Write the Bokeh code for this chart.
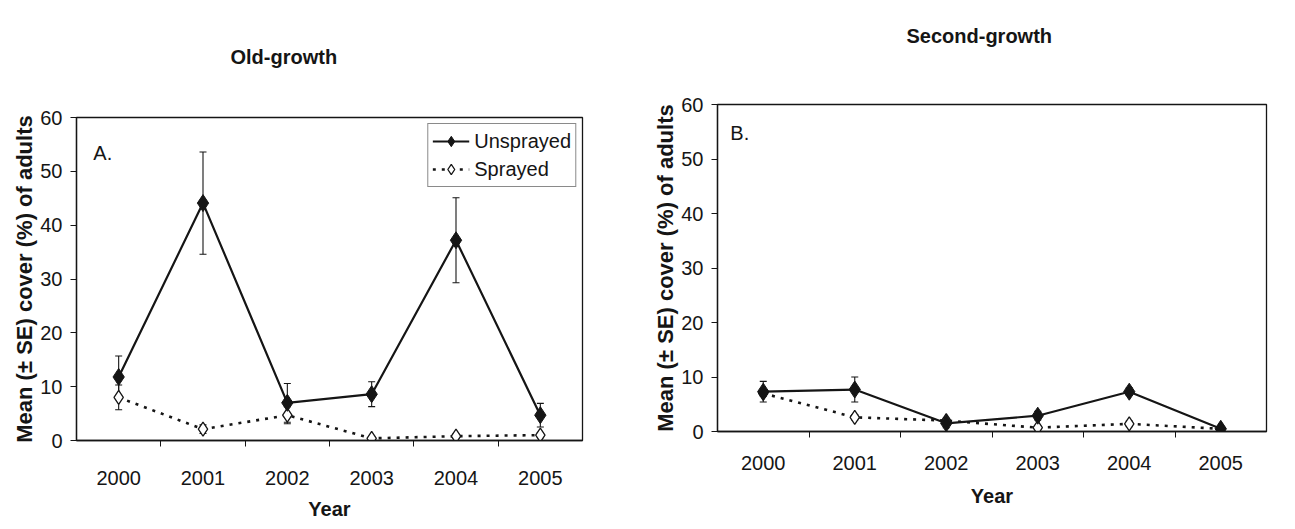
from bokeh.plotting import figure
from bokeh.models import (ColumnDataSource, Whisker, TeeHead, FixedTicker, Label,
                          Legend, LegendItem, Range1d)
from bokeh.layouts import row, column
from bokeh.embed import file_html
from bokeh.resources import INLINE

years = ["2000", "2001", "2002", "2003", "2004", "2005"]

old_unsprayed = [11.8, 44.1, 7.0, 8.6, 37.2, 4.7]
old_unsprayed_se = [3.9, 9.5, 3.6, 2.3, 7.9, 2.2]
old_sprayed = [8.0, 2.1, 4.7, 0.4, 0.8, 1.0]
old_sprayed_se = [2.3, 0.8, 1.6, 0.3, 0.4, 0.5]

second_unsprayed = [7.3, 7.7, 1.5, 2.9, 7.3, 0.5]
second_unsprayed_se = [1.9, 2.3, 0.8, 0.8, 0.7, 0.3]
second_sprayed = [7.0, 2.6, 2.0, 0.7, 1.4, 0.5]
second_sprayed_se = [0.5, 0.5, 0.4, 0.3, 0.5, 0.2]

y_ticks = [0, 10, 20, 30, 40, 50, 60]

FONT = "Liberation Sans"
INK = "#151515"


def panel(width, height, borders, title, title_offset, title_standoff, letter, letter_xy,
          uns, uns_se, spr, spr_se, legend, tick_standoff, label_standoff):
    left, right, top, bottom = borders
    p = figure(width=width, height=height, output_backend="svg", toolbar_location=None,
               x_range=Range1d(-0.5, 5.5), y_range=Range1d(0, 60),
               min_border_left=left, min_border_right=right,
               min_border_top=top, min_border_bottom=bottom)
    p.background_fill_color = "white"
    p.border_fill_color = "white"
    p.outline_line_color = INK
    p.outline_line_width = 1.3
    p.xgrid.visible = False
    p.ygrid.visible = False

    p.title.text = title
    p.title.align = "left"
    p.title.offset = title_offset
    p.title.standoff = title_standoff
    p.title.text_font = FONT
    p.title.text_font_size = "20px"
    p.title.text_font_style = "bold"
    p.title.text_color = INK

    idx = list(range(len(years)))
    xa = p.xaxis[0]
    xa.ticker = FixedTicker(ticks=idx, minor_ticks=[i + 0.5 for i in idx[:-1]])
    xa.major_label_overrides = {i: y for i, y in zip(idx, years)}
    xa.major_tick_out = 0
    xa.major_tick_in = 0
    xa.minor_tick_out = 6
    xa.minor_tick_in = 0
    xa.minor_tick_line_color = INK
    xa.axis_line_color = INK
    xa.axis_line_width = 1.3
    xa.major_label_text_font = FONT
    xa.major_label_text_font_size = "20px"
    xa.major_label_text_color = INK
    xa.major_label_standoff = tick_standoff
    xa.axis_label = "Year"
    xa.axis_label_text_font = FONT
    xa.axis_label_text_font_size = "20px"
    xa.axis_label_text_font_style = "bold"
    xa.axis_label_text_color = INK
    xa.axis_label_standoff = label_standoff

    ya = p.yaxis[0]
    ya.ticker = FixedTicker(ticks=y_ticks, minor_ticks=[])
    ya.major_tick_out = 6
    ya.major_tick_in = 0
    ya.major_tick_line_color = INK
    ya.axis_line_color = INK
    ya.axis_line_width = 1.3
    ya.major_label_text_font = FONT
    ya.major_label_text_font_size = "20px"
    ya.major_label_text_color = INK
    ya.major_label_standoff = 8
    ya.axis_label = "Mean (± SE) cover (%) of adults"
    ya.axis_label_text_font = FONT
    ya.axis_label_text_font_size = "22px"
    ya.axis_label_text_font_style = "bold"
    ya.axis_label_text_color = INK
    ya.axis_label_standoff = 0

    src_u = ColumnDataSource(dict(
        x=idx, y=uns,
        lo=[v - e for v, e in zip(uns, uns_se)],
        hi=[v + e for v, e in zip(uns, uns_se)]))
    src_s = ColumnDataSource(dict(
        x=idx, y=spr,
        lo=[max(v - e, 0) for v, e in zip(spr, spr_se)],
        hi=[v + e for v, e in zip(spr, spr_se)]))

    for src in (src_s, src_u):
        w = Whisker(source=src, base="x", lower="lo", upper="hi",
                    line_color=INK, line_width=1.1,
                    upper_head=TeeHead(size=7, line_color=INK, line_width=1.1),
                    lower_head=TeeHead(size=7, line_color=INK, line_width=1.1),
                    level="underlay")
        p.add_layout(w)

    ls = p.line("x", "y", source=src_s, line_color=INK, line_width=2.6,
                line_dash="3 6")
    ms = p.scatter("x", "y", source=src_s, marker="diamond", size=14,
                   fill_color="white", line_color=INK, line_width=1.3)
    lu = p.line("x", "y", source=src_u, line_color=INK, line_width=2.2)
    mu = p.scatter("x", "y", source=src_u, marker="diamond", size=17,
                   fill_color=INK, line_color=INK)

    p.add_layout(Label(x=letter_xy[0], y=letter_xy[1], text=letter,
                       text_font=FONT, text_font_size="20px", text_color=INK,
                       text_align="left", text_baseline="top"))

    if legend:
        lg = Legend(items=[LegendItem(label="Unsprayed", renderers=[lu, mu]),
                           LegendItem(label="Sprayed", renderers=[ls, ms])],
                    location="top_right", margin=6, padding=4, spacing=2,
                    glyph_width=37, glyph_height=26, label_height=26,
                    label_standoff=5,
                    label_text_font=FONT, label_text_font_size="20px",
                    label_text_color=INK,
                    border_line_color=INK, border_line_width=1.2,
                    background_fill_color="white", background_fill_alpha=1)
        p.add_layout(lg)
    return p


pa = panel(640, 522, (76, 58, 117, 82), "Old-growth\n", 154, 55, "A.", (-0.3, 55.5),
           old_unsprayed, old_unsprayed_se, old_sprayed, old_sprayed_se, True, 24, 10)
pb = panel(639, 522, (77, 13, 104, 91), "Second-growth\n\n", 189, 27, "B.", (-0.36, 56.7),
           second_unsprayed, second_unsprayed_se, second_sprayed, second_sprayed_se, False, 18, 12)

layout = row(column(pa), column(pb))
open("out.html", "w").write(file_html(layout, INLINE))
